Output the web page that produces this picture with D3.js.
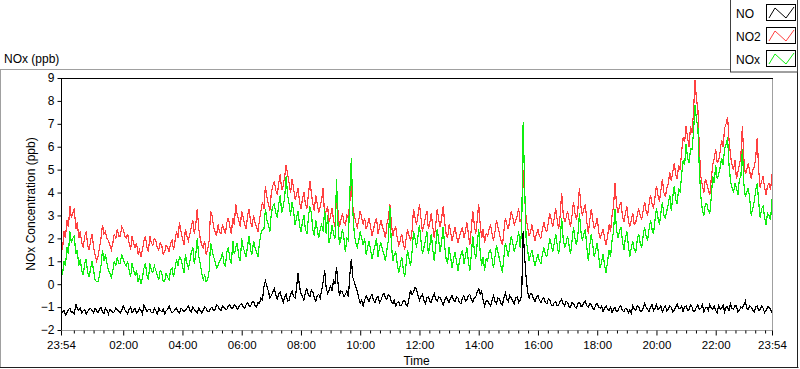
<!DOCTYPE html>
<html>
<head>
<meta charset="utf-8">
<script src="https://cdn.jsdelivr.net/npm/d3@7"></script>
<style>
  html, body { margin: 0; padding: 0; background: #ffffff; }
  svg { display: block; }
  text { font-family: "Liberation Sans", Arial, sans-serif; font-size: 12px; fill: #000; }
</style>
</head>
<body>
<svg id="chart" width="800" height="369"></svg>
<script>
// ---------------- data (3-minute samples from 23:54 to 23:54 next day) ----------------
const seriesNames = ["NO", "NO2", "NOx"];
const yTickValues = [-2, -1, 0, 1, 2, 3, 4, 5, 6, 7, 8, 9];
const xTickLabels = ["23:54", "02:00", "04:00", "06:00", "08:00", "10:00", "12:00", "14:00", "16:00", "18:00", "20:00", "22:00", "23:54"];

const noValues = [
  -1.30,-1.20,-1.15,-1.35,-1.25,-1.10,-1.05,-1.25,-1.20,-1.30,-0.85,-1.05,-1.15,-1.05,-1.25,-1.15,-1.10,-1.30,-1.20,-1.10,-1.05,-1.15,-1.25,-1.05,-1.15,-1.25,-1.10,-1.00,-1.20,-1.30,-1.05,-1.15,
  -1.30,-1.10,-1.15,-1.25,-1.20,-1.05,-1.10,-1.20,-1.25,-1.15,-0.95,-1.10,-1.20,-1.30,-1.10,-1.00,-1.25,-1.15,-1.05,-1.25,-1.20,-1.05,-1.15,-1.30,-0.90,-1.05,-1.20,-1.10,-1.10,-1.25,-1.25,-1.05,
  -1.15,-1.30,-1.05,-1.15,-1.20,-1.10,-1.30,-1.15,-1.10,-0.95,-1.15,-1.25,-1.20,-1.10,-1.05,-1.20,-1.25,-1.05,-1.10,-1.20,-1.15,-1.05,-0.95,-1.15,-1.20,-1.00,-1.10,-1.20,-1.25,-1.05,-1.15,-1.25,
  -1.15,-1.00,-1.05,-1.20,-1.20,-1.05,-1.00,-1.15,-1.10,-0.90,-0.95,-1.10,-1.15,-0.95,-1.00,-1.10,-1.10,-0.95,-0.90,-1.05,-1.05,-0.90,-0.95,-1.10,-1.00,-0.90,-0.85,-1.00,-1.05,-0.90,-0.80,-0.95,
  -0.95,-0.80,-0.75,-0.95,-1.00,-0.80,-0.85,-0.60,-0.70,-0.10,0.15,-0.10,-0.30,-0.60,-0.50,-0.35,-0.20,-0.45,-0.65,-0.40,-0.35,-0.60,-0.80,-0.55,-0.45,-0.75,-0.70,-0.45,-0.30,-0.55,-0.60,-0.20,
  0.50,-0.10,-0.40,-0.55,-0.70,-0.35,-0.20,-0.50,-0.55,-0.25,-0.35,-0.60,-0.75,-0.50,-0.45,-0.60,-0.25,0.10,0.60,-0.15,-0.40,-0.25,-0.10,-0.30,0.20,0.00,0.75,0.05,-0.50,-0.30,-0.35,-0.55,
  -0.45,-0.30,-0.55,0.40,1.10,0.30,0.10,-0.10,-0.30,-0.60,-0.85,-0.70,-0.95,-0.70,-0.50,-0.65,-0.75,-0.55,-0.45,-0.70,-0.80,-0.60,-0.55,-0.80,-0.70,-0.50,-0.40,-0.60,-0.65,-0.45,-0.50,-0.75,
  -0.85,-0.70,-0.95,-0.80,-0.75,-0.95,-0.90,-0.75,-0.70,-0.90,-0.95,-0.60,-0.25,-0.45,-0.35,-0.15,-0.20,-0.50,-0.70,-0.55,-0.45,-0.70,-0.85,-0.60,-0.55,-0.75,-0.80,-0.55,-0.40,-0.65,-0.75,-0.55,
  -0.60,-0.75,-0.90,-0.70,-0.55,-0.70,-0.80,-0.60,-0.50,-0.70,-0.75,-0.55,-0.60,-0.80,-0.85,-0.60,-0.50,-0.75,-0.70,-0.50,-0.45,-0.65,-0.80,-0.60,-0.55,-0.35,-0.20,-0.45,-0.30,-0.70,-0.95,-0.75,
  -0.70,-0.85,-0.95,-0.70,-0.50,-0.75,-0.85,-0.60,-0.65,-0.85,-0.90,-0.60,-0.40,-0.65,-0.75,-0.50,-0.60,-0.75,-0.85,-0.60,-0.55,-0.80,-0.70,-0.50,2.30,1.20,0.30,-0.30,-0.60,-0.40,-0.45,-0.65,
  -0.75,-0.55,-0.50,-0.70,-0.80,-0.65,-0.60,-0.80,-0.85,-0.65,-0.70,-0.90,-0.95,-0.80,-0.75,-0.95,-0.90,-0.75,-0.65,-0.85,-0.95,-0.75,-0.80,-1.00,-1.00,-0.80,-0.85,-1.00,-1.05,-0.85,-0.80,-0.95,
  -0.95,-0.80,-0.75,-0.95,-1.00,-0.85,-0.90,-1.05,-1.10,-0.90,-0.85,-1.00,-1.05,-0.95,-1.20,-1.05,-0.95,-1.10,-1.15,-1.00,-1.25,-1.10,-1.00,-1.20,-1.15,-1.00,-0.95,-1.15,-1.20,-1.05,-1.10,-1.25,
  -1.10,-1.25,-0.95,-1.10,-1.15,-0.95,-1.00,-1.15,-1.20,-1.05,-0.85,-1.00,-1.10,-1.20,-1.00,-0.90,-1.15,-1.05,-0.90,-1.10,-1.05,-0.95,-1.20,-1.05,-0.95,-1.15,-1.10,-0.95,-1.00,-1.20,-1.15,-1.00,
  -0.85,-1.05,-1.05,-0.95,-1.20,-1.00,-0.95,-1.15,-1.10,-0.90,-1.00,-1.20,-1.15,-1.00,-0.90,-1.10,-1.05,-0.90,-1.20,-1.05,-1.00,-1.15,-0.90,-1.05,-1.10,-0.95,-1.15,-1.25,-0.95,-1.10,-1.05,-0.90,
  -1.20,-1.00,-1.00,-1.15,-0.85,-1.05,-1.10,-0.95,-0.95,-1.20,-1.15,-1.00,-1.05,-0.90,-0.75,-1.05,-1.10,-0.95,-1.00,-1.15,-1.20,-1.00,-0.95,-1.15,-1.10,-0.95,-1.05,-1.25,-1.15,-1.00,-1.00,-1.10,
  -1.25
];

const no2Values = [
  1.8,1.5,2.3,2.0,2.8,2.5,3.4,2.9,3.1,3.3,2.4,2.7,2.0,2.3,1.8,1.6,2.1,2.3,1.7,1.5,1.9,2.2,1.6,1.3,1.0,1.2,1.6,2.0,2.6,2.2,2.3,2.0,
  1.9,1.7,1.5,1.8,2.2,2.0,2.4,2.1,2.1,2.5,2.4,2.1,2.0,2.2,1.8,1.5,2.1,1.8,1.6,1.8,1.3,1.5,1.2,1.5,1.9,2.1,1.6,1.4,2.1,1.8,1.7,2.0,
  1.9,1.6,1.5,1.8,1.7,1.3,1.4,1.7,1.6,1.4,1.8,1.9,1.5,1.9,2.3,2.0,2.7,2.3,2.0,1.7,2.4,2.1,1.9,2.2,2.5,2.8,2.2,2.6,3.3,2.4,2.0,1.7,
  1.6,1.9,1.3,1.5,1.9,3.2,3.0,2.5,2.3,2.1,2.6,2.3,2.2,2.6,2.4,2.2,2.7,2.9,2.5,2.2,2.9,2.6,3.5,3.0,2.8,2.5,3.2,2.9,2.6,2.4,3.0,3.3,
  2.7,2.5,3.0,2.7,2.5,2.3,2.8,3.2,3.6,3.3,4.3,3.8,3.5,3.2,4.0,4.3,4.5,4.1,3.9,4.4,4.8,4.1,4.3,4.7,5.2,4.8,4.4,4.0,4.6,4.2,3.7,3.9,
  4.2,3.6,3.3,3.7,4.0,3.5,3.3,3.9,4.5,4.0,3.5,3.2,3.9,3.5,3.1,3.4,3.7,4.2,2.9,3.2,3.4,2.7,3.0,3.3,2.8,2.5,3.8,3.2,2.5,2.8,3.1,2.7,
  2.6,3.0,2.9,3.6,4.3,3.4,3.0,2.7,2.5,2.8,3.2,2.9,2.6,2.9,2.4,2.6,2.9,2.5,2.1,2.4,2.7,2.9,2.2,2.5,2.8,2.5,2.3,2.0,2.6,2.9,3.5,2.7,
  2.1,2.4,2.5,2.0,1.7,1.9,2.2,1.8,1.5,2.0,2.4,2.1,1.9,2.3,3.3,2.9,2.6,3.0,3.5,2.9,2.3,2.6,2.9,3.2,2.4,2.7,3.1,2.5,2.0,2.6,3.3,2.8,
  2.5,2.9,3.4,2.7,2.2,2.0,2.6,2.3,1.9,2.2,2.5,2.1,1.8,2.1,2.3,2.5,2.0,2.3,2.7,2.2,1.7,2.4,3.2,2.6,2.2,2.8,3.5,2.6,2.0,2.4,1.8,2.2,
  2.1,2.4,2.6,2.2,1.9,2.3,2.8,2.5,2.2,1.9,1.7,2.3,2.9,2.6,2.4,2.8,3.2,2.9,2.6,2.8,3.0,3.3,2.7,2.9,5.0,3.8,2.9,2.5,2.1,2.3,2.6,2.2,
  1.9,2.2,2.4,2.1,2.0,2.4,2.7,2.4,2.3,2.7,3.1,2.8,2.5,2.9,3.3,2.8,2.4,3.0,4.0,3.1,2.7,2.9,3.2,2.8,2.5,3.0,3.6,3.1,2.8,3.3,4.2,3.4,
  3.0,3.3,3.5,2.7,2.2,2.8,3.3,2.8,2.4,2.6,2.9,2.3,2.0,2.2,2.4,2.0,1.7,2.1,2.6,2.3,3.0,3.4,4.4,3.5,3.1,3.4,3.6,3.0,2.7,3.1,3.4,2.8,
  2.5,2.8,3.1,2.6,2.7,3.0,3.3,3.0,2.8,3.2,3.6,3.2,3.0,3.5,3.9,3.5,3.3,3.8,4.3,3.9,3.6,4.1,4.6,4.0,3.8,4.2,4.4,4.9,4.5,4.9,5.3,4.8,
  4.6,5.2,5.0,5.8,6.4,6.2,6.9,6.4,6.0,6.9,6.6,7.5,8.9,8.1,7.6,5.8,4.7,4.3,4.0,4.6,4.4,4.1,3.9,4.6,5.2,5.5,5.9,5.3,5.4,5.8,6.3,6.0,
  6.8,7.0,7.3,6.3,5.6,5.2,5.0,5.4,4.6,4.9,5.2,5.6,6.9,5.5,4.8,5.0,5.3,4.9,4.6,5.0,5.1,5.5,6.4,5.0,4.2,4.5,4.7,4.2,3.9,4.3,4.4,4.1,
  4.8
];

const noxValues = [
  0.7,0.4,1.0,0.8,1.6,1.3,2.3,1.8,2.0,2.1,1.3,1.5,0.8,1.1,0.6,0.4,0.9,1.1,0.5,0.3,0.7,1.0,0.6,0.2,0.1,0.1,0.4,0.8,1.5,1.0,1.3,0.9,
  0.6,0.5,0.3,0.6,1.0,0.8,1.2,0.9,0.9,1.3,1.1,0.9,0.8,1.0,0.6,0.3,0.9,0.6,0.4,0.6,0.1,0.3,0.0,0.3,0.7,0.9,0.4,0.2,0.9,0.6,0.5,0.8,
  0.6,0.4,0.2,0.6,0.5,0.1,0.1,0.5,0.3,0.2,0.6,0.7,0.3,0.7,1.1,0.8,1.2,1.1,0.8,0.5,1.3,0.9,0.7,1.0,1.4,1.6,0.9,1.3,2.0,1.2,0.9,0.5,
  0.2,0.4,0.1,0.2,0.6,1.8,1.5,1.2,1.0,0.7,0.8,1.0,1.1,1.4,0.9,0.8,1.4,1.6,1.1,0.9,1.9,1.3,1.6,1.8,1.2,1.0,2.0,1.6,1.4,1.2,1.7,2.1,
  1.5,1.3,1.9,1.6,1.4,1.2,1.8,2.2,2.4,2.4,3.3,2.8,2.6,2.3,3.1,3.4,3.5,3.1,2.9,3.5,3.9,3.1,3.4,3.8,4.7,3.9,3.5,3.0,3.6,3.2,2.6,2.9,
  3.2,2.6,2.3,2.7,3.0,2.4,2.2,2.9,3.4,3.1,2.4,2.1,2.8,2.4,2.0,2.4,2.6,2.3,3.3,2.2,3.0,1.8,2.1,2.6,2.2,2.0,4.6,2.6,1.7,2.0,2.4,2.0,
  1.4,2.0,1.9,4.0,5.5,3.2,2.2,1.8,1.6,1.9,2.3,2.0,1.7,2.0,1.3,1.6,1.9,1.5,1.1,1.4,1.7,2.0,1.2,1.6,1.8,1.5,1.3,1.0,1.5,1.9,3.4,1.8,
  1.0,1.3,1.4,0.9,0.5,0.8,1.2,0.7,0.3,0.9,1.5,1.1,0.8,1.4,2.3,2.0,1.6,2.1,2.6,1.9,1.3,1.6,1.9,2.3,1.3,1.7,2.2,1.5,1.0,1.7,2.4,1.9,
  1.4,1.9,2.5,1.7,1.1,0.9,1.6,1.2,0.7,1.1,1.4,1.0,0.6,1.0,1.3,1.5,0.9,1.2,1.6,1.0,0.6,1.3,2.1,1.5,1.1,1.8,2.4,1.4,0.8,1.2,0.6,1.1,
  1.0,1.4,1.5,1.1,0.7,1.2,1.7,1.4,1.1,0.8,0.5,1.2,1.8,1.5,1.2,1.7,2.1,1.8,1.4,1.7,1.9,2.3,1.6,2.4,7.1,4.3,2.0,1.5,1.0,1.3,1.5,1.1,
  0.8,1.1,1.3,1.0,0.9,1.3,1.6,1.3,1.2,1.6,2.0,1.7,1.4,1.8,2.2,1.7,1.3,1.9,2.9,2.0,1.6,1.8,2.1,1.7,1.3,1.9,2.5,2.0,1.7,2.2,3.1,2.3,
  1.9,2.2,2.4,1.6,1.0,1.7,2.2,1.7,1.2,1.5,1.8,1.2,0.7,1.0,1.3,0.8,0.5,1.0,1.5,1.2,1.9,2.3,3.3,2.4,2.0,2.3,2.5,1.9,1.5,2.0,2.3,1.7,
  1.2,1.6,1.9,1.5,1.4,1.9,2.2,1.8,1.6,2.1,2.5,2.1,1.9,2.4,2.8,2.4,2.2,2.8,3.3,2.9,2.6,3.1,3.6,3.0,2.9,3.2,3.5,3.9,3.2,3.8,4.3,3.7,
  3.5,4.2,4.0,4.8,5.4,5.2,6.1,5.5,5.3,5.9,5.9,6.6,7.8,7.2,6.8,4.9,3.8,3.2,3.0,3.5,3.5,3.2,3.1,3.8,4.7,4.4,5.2,4.6,4.8,5.1,5.5,5.2,
  5.9,6.1,6.4,5.2,4.5,4.2,4.0,4.4,4.2,3.9,4.6,4.7,5.9,4.4,3.8,4.0,4.2,3.7,3.0,3.3,3.6,4.1,4.4,3.6,2.9,3.3,3.4,2.9,2.6,3.1,3.0,2.8,
  3.7
];

// ---------------- layout / style ----------------
const plot = { left: 61, right: 772, top: 78, bottom: 330 };
const colors = { NO: "#000000", NO2: "#ff4040", NOx: "#10ee10" };
const fontFamily = "\"Liberation Sans\", Arial, sans-serif";

const svg = d3.select("#chart");

const startTime = new Date(2000, 0, 1, 23, 54);
const totalMinutes = 24 * 60;
const endTime = d3.timeMinute.offset(startTime, totalMinutes);

const x = d3.scaleTime().domain([startTime, endTime]).range([plot.left, plot.right]);
const y = d3.scaleLinear().domain([-2, 9]).range([plot.bottom, plot.top]);

// outer frame of the graph panel
svg.append("line").attr("x1", 0.5).attr("x2", 0.5).attr("y1", 69.5).attr("y2", 368).attr("stroke", "#a0a0a0");
svg.append("line").attr("x1", 0).attr("x2", 798).attr("y1", 69.5).attr("y2", 69.5).attr("stroke", "#a0a0a0");
svg.append("line").attr("x1", 0).attr("x2", 798.5).attr("y1", 367.5).attr("y2", 367.5).attr("stroke", "#202020");
svg.append("line").attr("x1", 797.5).attr("x2", 797.5).attr("y1", 69.5).attr("y2", 368).attr("stroke", "#202020");

// title
svg.append("text").attr("x", 4).attr("y", 63).text("NOx (ppb)");

// plot frame
svg.append("line").attr("x1", plot.right + 0.5).attr("x2", plot.right + 0.5).attr("y1", plot.top).attr("y2", plot.bottom + 1).attr("stroke", "#a0a0a0");
svg.append("line").attr("x1", plot.left).attr("x2", plot.right + 1).attr("y1", plot.top + 0.5).attr("y2", plot.top + 0.5).attr("stroke", "#000");

// clip
svg.append("clipPath").attr("id", "clip").append("rect")
  .attr("x", plot.left + 1).attr("y", plot.top + 1)
  .attr("width", plot.right - plot.left - 1).attr("height", plot.bottom - plot.top - 1);

// series (drawn without anti-aliasing, like the original instrument chart)
const seriesData = [
  { name: "NO", values: noValues },
  { name: "NO2", values: no2Values },
  { name: "NOx", values: noxValues }
];
const g = svg.append("g").attr("clip-path", "url(#clip)");
seriesData.forEach(s => {
  const step = totalMinutes / (s.values.length - 1);
  const line = d3.line()
    .x((d, i) => x(d3.timeMinute.offset(startTime, i * step)))
    .y(d => y(d));
  g.append("path").datum(s.values)
    .attr("fill", "none")
    .attr("stroke", colors[s.name])
    .attr("stroke-width", 1.2)
    .attr("shape-rendering", "crispEdges")
    .attr("d", line);
});

// y axis
const yAxis = d3.axisLeft(y).tickValues(yTickValues).tickSize(4).tickPadding(3).tickFormat(d3.format("d"));
const yg = svg.append("g").attr("transform", `translate(${plot.left + 0.5},0)`).call(yAxis);
yg.select(".domain").attr("stroke", "#000").attr("d", `M0,${plot.top}V${plot.bottom}`);
yg.selectAll(".tick line").attr("stroke", "#000");
yg.selectAll("text").style("font-size", "12px").attr("fill", "#000").style("font-family", fontFamily);

// x axis: major ticks
const majorTicks = xTickLabels.map((lab, i) => {
  if (i === 0) return startTime;
  if (i === xTickLabels.length - 1) return endTime;
  const [h, m] = lab.split(":").map(Number);
  return new Date(2000, 0, 2, h, m);
});
const labelByTime = new Map(majorTicks.map((t, i) => [+t, xTickLabels[i]]));
const xAxis = d3.axisBottom(x).tickValues(majorTicks).tickSize(5).tickPadding(5)
  .tickFormat(d => labelByTime.get(+d));
const xg = svg.append("g").attr("transform", `translate(0,${plot.bottom + 0.5})`).call(xAxis);
xg.select(".domain").attr("stroke", "#a0a0a0").attr("d", `M${plot.left},0H${plot.right + 1}`);
xg.selectAll(".tick line").attr("stroke", "#000");
xg.selectAll("text").style("font-size", "11.5px").attr("fill", "#000").style("font-family", fontFamily);

// x axis: minor ticks every 20 minutes
const minorTicks = d3.timeMinute.every(20).range(new Date(2000, 0, 2, 0, 0), endTime)
  .filter(t => t.getMinutes() !== 0 || t.getHours() % 2 !== 0);
const xMinor = d3.axisBottom(x).tickValues(minorTicks).tickSize(3).tickFormat("");
const xmg = svg.append("g").attr("transform", `translate(0,${plot.bottom + 0.5})`).call(xMinor);
xmg.select(".domain").remove();
xmg.selectAll(".tick line").attr("stroke", "#000");

// axis titles
svg.append("text").attr("x", (plot.left + plot.right) / 2).attr("y", 365)
  .attr("text-anchor", "middle").text("Time");
svg.append("text")
  .attr("transform", `translate(35,${(plot.top + plot.bottom) / 2}) rotate(-90)`)
  .attr("text-anchor", "middle").text("NOx Concentration (ppb)");

// legend
const legend = svg.append("g");
legend.append("rect").attr("x", 730.5).attr("y", -1).attr("width", 67).attr("height", 73)
  .attr("fill", "#fff").attr("stroke", "#404040");
seriesNames.forEach((name, i) => {
  const top = 4 + i * 23;
  legend.append("text").attr("x", 736).attr("y", top + 14).text(name);
  legend.append("rect").attr("x", 766.5).attr("y", top + 0.5).attr("width", 29).attr("height", 16)
    .attr("fill", "#fff").attr("stroke", "#000");
  legend.append("path")
    .attr("d", `M769,${top + 14} L775,${top + 4} L786,${top + 14} L794,${top + 3}`)
    .attr("fill", "none").attr("stroke", colors[name]).attr("stroke-width", 1);
});
</script>
</body>
</html>
